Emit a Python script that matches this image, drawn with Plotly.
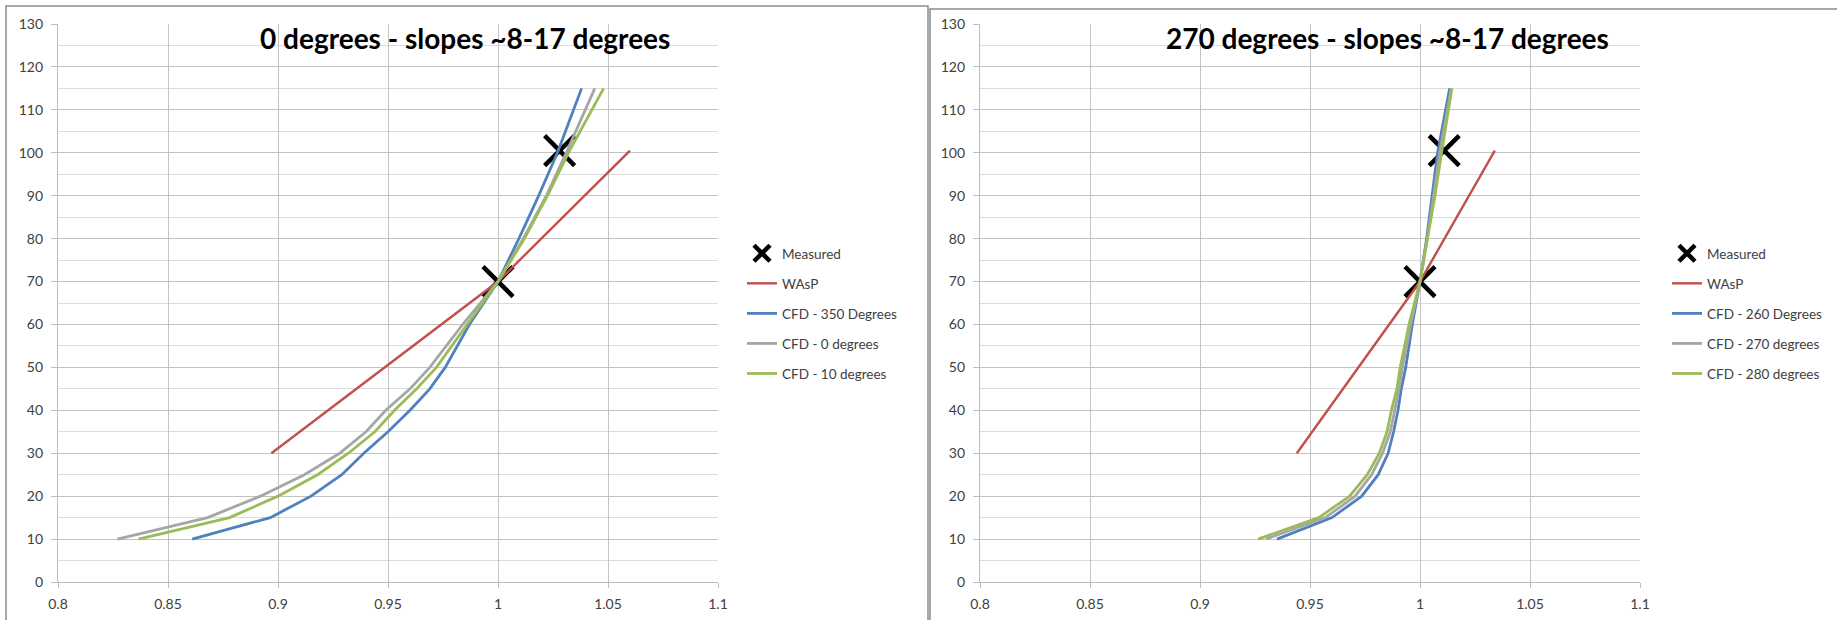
import plotly.graph_objects as go

# ---------------- data ----------------
heights = [10, 15, 20, 25, 30, 35, 40, 45, 50, 60, 70, 80, 90, 100, 115]

# Left chart: 0 degrees
left_title = "0 degrees - slopes ~8-17 degrees"
left_measured_x = [1.0, 1.028]
left_measured_y = [70, 100.5]
left_wasp_x = [0.897, 1.0, 1.060]
left_wasp_y = [30, 70, 100.5]
left_cfd_names = ["CFD - 350 Degrees", "CFD - 0 degrees", "CFD - 10 degrees"]
left_cfd_350 = [0.861, 0.8965, 0.915, 0.929, 0.939, 0.950, 0.960, 0.969, 0.976, 0.987, 1.0, 1.0095, 1.0185, 1.027, 1.038]
left_cfd_0 = [0.827, 0.868, 0.892, 0.912, 0.928, 0.940, 0.949, 0.960, 0.969, 0.984, 1.0, 1.0115, 1.022, 1.031, 1.044]
left_cfd_10 = [0.8366, 0.878, 0.900, 0.918, 0.932, 0.944, 0.953, 0.963, 0.972, 0.986, 1.0, 1.012, 1.0225, 1.032, 1.048]

# Right chart: 270 degrees
right_title = "270 degrees - slopes ~8-17 degrees"
right_measured_x = [1.0, 1.011]
right_measured_y = [70, 100.5]
right_wasp_x = [0.944, 1.0, 1.034]
right_wasp_y = [30, 70, 100.5]
right_cfd_names = ["CFD - 260 Degrees", "CFD - 270 degrees", "CFD - 280 degrees"]
right_cfd_260 = [0.935, 0.960, 0.9735, 0.981, 0.9855, 0.988, 0.990, 0.9915, 0.9935, 0.9965, 1.0, 1.003, 1.0055, 1.008, 1.0135]
right_cfd_270 = [0.930, 0.957, 0.9705, 0.978, 0.983, 0.9865, 0.9885, 0.9905, 0.992, 0.9958, 1.0, 1.0033, 1.0062, 1.009, 1.0142]
right_cfd_280 = [0.9264, 0.954, 0.968, 0.976, 0.9815, 0.985, 0.987, 0.9895, 0.991, 0.995, 1.0, 1.0035, 1.0068, 1.0098, 1.0145]

x_tickvals = [0.8, 0.85, 0.9, 0.95, 1.0, 1.05, 1.1]
x_ticktext = ["0.8", "0.85", "0.9", "0.95", "1", "1.05", "1.1"]

# ---------------- styling ----------------
W, H = 1837, 620
FONT = "Lato"
C_BLUE = "#4F81BD"
C_RED = "#C0504D"
C_GRAY = "#A6A6A6"
C_GREEN = "#9BBB59"
TXT = "#404040"

fig = go.Figure()


def add_panel(xa, ya, leg, measured_x, measured_y, wasp_x, wasp_y, names, series):
    fig.add_trace(go.Scatter(
        x=measured_x, y=measured_y, mode="markers", name="Measured",
        marker=dict(symbol="x-thin-open", size=30, color="black",
                    line=dict(color="black", width=4.5)),
        xaxis=xa, yaxis=ya, legend=leg, legendgroup=leg + "m"))
    fig.add_trace(go.Scatter(
        x=wasp_x, y=wasp_y, mode="lines", name="WAsP",
        line=dict(color=C_RED, width=2.4),
        xaxis=xa, yaxis=ya, legend=leg, legendgroup=leg + "w"))
    for nm, vals, col in zip(names, series, [C_BLUE, C_GRAY, C_GREEN]):
        fig.add_trace(go.Scatter(
            x=vals, y=heights, mode="lines", name=nm,
            line=dict(color=col, width=2.8),
            xaxis=xa, yaxis=ya, legend=leg, legendgroup=leg + nm))


add_panel("x", "y", "legend", left_measured_x, left_measured_y, left_wasp_x, left_wasp_y,
          left_cfd_names, [left_cfd_350, left_cfd_0, left_cfd_10])
add_panel("x2", "y2", "legend2", right_measured_x, right_measured_y, right_wasp_x, right_wasp_y,
          right_cfd_names, [right_cfd_260, right_cfd_270, right_cfd_280])

y0 = (H - 582) / H
y1 = (H - 24) / H

xaxis_common = dict(
    range=[0.8, 1.1], tickmode="array", tickvals=x_tickvals, ticktext=x_ticktext,
    showgrid=True, gridcolor="#C4C4C4", gridwidth=1.3,
    zeroline=False, showline=True, linecolor="#BDBDBD", linewidth=1.3,
    ticks="outside", ticklen=5, tickcolor="#BDBDBD", ticklabelstandoff=4,
    tickfont=dict(family=FONT, size=14, color=TXT), fixedrange=True,
    automargin=False,
)
yaxis_common = dict(
    range=[0, 130], tickmode="linear", tick0=0, dtick=10,
    showgrid=True, gridcolor="#C2C2C2", gridwidth=1.3,
    minor=dict(tickmode="linear", tick0=0, dtick=5, showgrid=True,
               gridcolor="#DCDCDC", gridwidth=1.3, ticks=""),
    zeroline=False, showline=True, linecolor="#BDBDBD", linewidth=1.3,
    ticks="outside", ticklen=6, tickcolor="#BDBDBD", ticklabelstandoff=5,
    tickfont=dict(family=FONT, size=14, color=TXT), fixedrange=True,
    automargin=False,
)

legend_common = dict(
    font=dict(family=FONT, size=13.5, color=TXT),
    bgcolor="rgba(0,0,0,0)", borderwidth=0,
    xanchor="left", yanchor="top", tracegroupgap=9.5,
    itemwidth=30, traceorder="grouped",
)

fig.update_layout(
    width=W, height=H,
    margin=dict(l=0, r=0, t=0, b=0, autoexpand=False),
    paper_bgcolor="white", plot_bgcolor="white",
    showlegend=True,
    xaxis=dict(domain=[58 / W, 718 / W], anchor="y", **xaxis_common),
    yaxis=dict(domain=[y0, y1], anchor="x", **yaxis_common),
    xaxis2=dict(domain=[980 / W, 1640 / W], anchor="y2", **xaxis_common),
    yaxis2=dict(domain=[y0, y1], anchor="x2", **yaxis_common),
    legend=dict(x=742 / W, y=1 - 238 / H, **legend_common),
    legend2=dict(x=1667 / W, y=1 - 238 / H, **legend_common),
    annotations=[
        dict(text="<b>" + left_title + "</b>", x=465 / W, y=1 - 38 / H, xref="paper", yref="paper",
             xanchor="center", yanchor="middle", showarrow=False,
             font=dict(family=FONT, size=28, color="black")),
        dict(text="<b>" + right_title + "</b>", x=1387 / W, y=1 - 38 / H, xref="paper", yref="paper",
             xanchor="center", yanchor="middle", showarrow=False,
             font=dict(family=FONT, size=28, color="black")),
    ],
    shapes=[
        dict(type="rect", xref="paper", yref="paper", x0=6 / W, x1=928 / W, y0=-0.05, y1=1 - 6 / H,
             line=dict(color="#8C8C8C", width=1.5), layer="above"),
        dict(type="rect", xref="paper", yref="paper", x0=930 / W, x1=1.05, y0=-0.05, y1=1 - 9 / H,
             line=dict(color="#8C8C8C", width=1.5), layer="above"),
    ],
)

fig.write_html("out.html", config={"displayModeBar": False},
               post_script="document.body.style.margin='0px';")
